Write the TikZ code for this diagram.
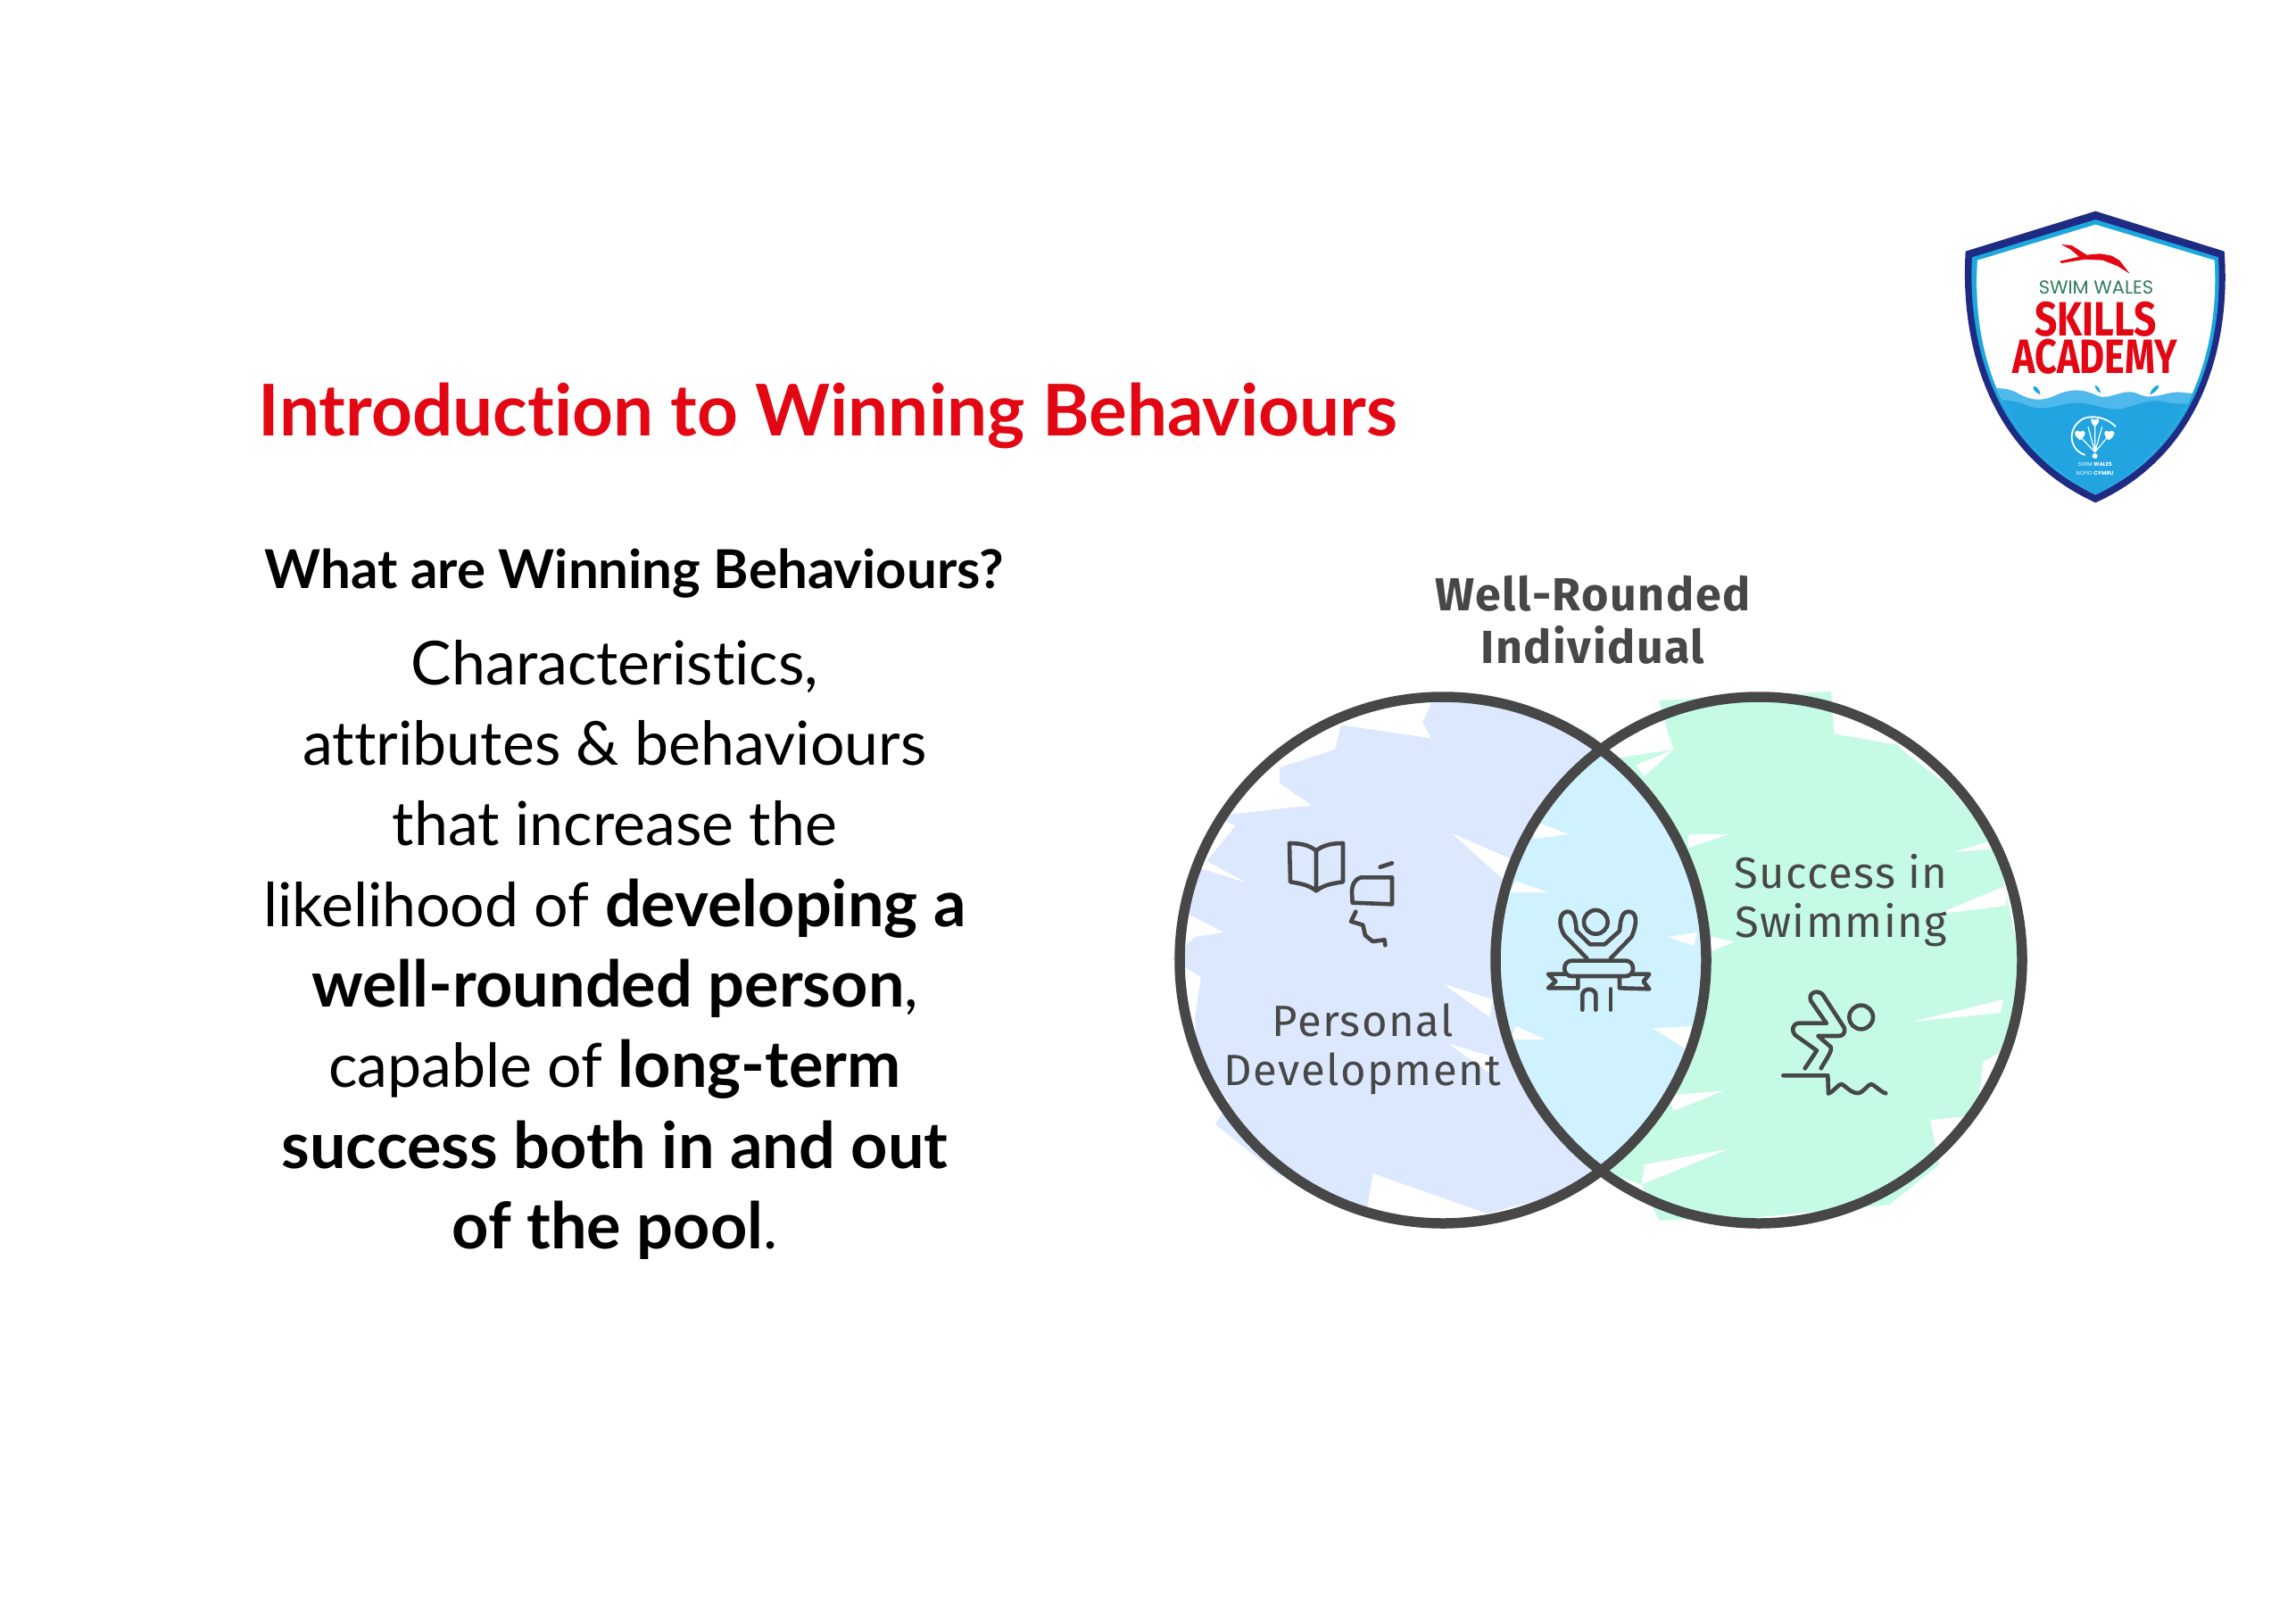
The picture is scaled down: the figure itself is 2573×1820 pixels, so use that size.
\documentclass[tikz,border=0pt]{standalone}
\usepackage{fontspec}
\usepackage{graphicx}
\setmainfont{Lato}[Ligatures=NoCommon]
\newfontfamily\hand{Fira Sans}[LetterSpace=3]
\newfontfamily\logofont{Poppins}
\newfontfamily\logobold{Fira Sans}[UprightFont=*-Bold]
\newcommand{\strongbit}[1]{{\fontsize{72}{90.3}\selectfont\bfseries #1}}
\definecolor{ink}{HTML}{474747}
\definecolor{pblue}{HTML}{DBE8FE}
\definecolor{pgreen}{HTML}{C5FBE4}
\definecolor{pcyan}{HTML}{D0F2FE}
\definecolor{wred}{HTML}{E30613}
\definecolor{navy}{HTML}{1F2A83}
\definecolor{midblue}{HTML}{1CA7DD}
\definecolor{wave}{HTML}{4FB9EC}
\definecolor{deep}{HTML}{22A4E0}
\definecolor{wgreen}{HTML}{2E7D5B}
\tikzset{
 zb/.style={shift={(1300,620)},x=.654pt,y=-.5pt},
 zl/.style={shift={(2180,220)},x=.3333pt,y=-.3333pt},
 zi/.style={shift={(1420,920)},x=.3333pt,y=-.3333pt},
 zd/.style={shift={(1950,1080)},x=.3333pt,y=-.3333pt},
 icon/.style={draw=ink,line width=4.6pt,line cap=round,line join=round},
 ring/.style={draw=ink,line width=11.5pt},
 handtext/.style={text=ink,font=\hand\fontsize{49}{56}\selectfont,inner sep=0pt},
 handbold/.style={text=ink,font=\hand\bfseries\fontsize{52}{58}\selectfont,inner sep=0pt},
 spike/.style={fill=white,draw=none},
}
\begin{document}
\begin{tikzpicture}[x=1pt,y=-1pt]
\useasboundingbox (0,0) rectangle (2573,1820);
\fill[white] (0,0) rectangle (2573,1820);

% text column
\node[inner sep=0pt,text=wred,font=\bfseries\fontsize{80}{88}\selectfont] (title) at (928,466) {Introduction to Winning Behaviours};
\node[inner sep=0pt,font=\bfseries\fontsize{60}{68}\selectfont] (question) at (711,643) {What are Winning Behaviours?};
\node[inner sep=0pt,align=center,anchor=north,font=\fontsize{68}{90.3}\selectfont] (body) at (689,717) {Characteristics,\\attributes \& behaviours\\that increase the\\likelihood of \strongbit{developing a}\\\strongbit{well-rounded person},\\capable of \strongbit{long-term}\\\strongbit{success both in and out}\\\strongbit{of the pool}.};

% venn fills
\begin{scope}[zb]
\fill[pgreen] (855,330)--(1150,310)--(1155,405)--(1265,430)--(1275,445)--(1350,520)--(1400,600)--(1440,700)--(1480,950)--(1465,1100)--(1410,1140)--(1400,1260)--(1320,1270)--(1335,1370)--(1250,1460)--(1010,1490)--(855,1495)--(825,1415)--(760,1385)--(700,1330)--(635,1280)--(640,1240)--(700,1000)--(780,460)--(880,440)--(870,400)--cycle;
\fill[pblue] (465,335)--(560,325)--(680,370)--(745,410)--(800,600)--(800,1200)--(735,1420)--(560,1480)--(365,1390)--(355,1465)--(200,1390)--(95,1280)--(120,1230)--(60,1140)--(60,1040)--(70,950)--(20,910)--(60,860)--(110,850)--(50,810)--(55,700)--(150,740)--(80,690)--(130,610)--(90,590)--(260,565)--(205,515)--(205,480)--(300,440)--(310,385)--(465,415)--(450,380)--cycle;
\end{scope}
\begin{scope}
\clip (1617,1076) circle[radius=295];
\fill[pcyan] (1971,1076) circle[radius=295];
\end{scope}
\begin{scope}[zb]
\foreach \p in {
 {(500,628)--(610,690)--(600,745)},
 {(610,735)--(665,760)--(600,760)},
 {(485,965)--(570,1000)--(565,1040)},
 {(495,1100)--(575,1130)--(570,1170)},
 {(700,630)--(640,600)--(640,640)},
 {(845,1065)--(910,1060)--(905,1115)},
 {(610,1060)--(660,1090)--(600,1090)},
 {(870,860)--(920,850)--(915,880)},
 {(975,630)--(905,660)--(905,630)},
 {(985,870)--(940,895)--(945,860)},
 {(1460,630)--(1360,670)--(1450,660)},
 {(1450,745)--(1330,810)--(1450,790)},
 {(1445,1000)--(1290,1050)--(1440,1030)},
 {(965,1205)--(880,1250)--(870,1215)},
 {(975,1335)--(825,1415)--(830,1370)},
 {(880,440)--(815,475)--(830,500)}
}{\fill[spike] \p--cycle;}
\end{scope}
\draw[ring] (1617,1076) circle[radius=295];
\draw[ring] (1971,1076) circle[radius=295];

% venn text
\node[handbold] (wr1) at (1785,665) {Well-Rounded};
\node[handbold] (wr2) at (1785,723) {Individual};
\node[handtext] (pd1) at (1527,1143) {Personal};
\node[handtext] (pd2) at (1527,1203) {Development};
\node[handtext] (sw1) at (2063,977) {Success in};
\node[handtext] (sw2) at (2063,1037) {Swimming};

% icons
\begin{scope}[zi]
\draw[icon] (165,100) .. controls (140,80) and (110,75) .. (75,75) -- (78,205) .. controls (110,210) and (140,215) .. (165,235) .. controls (190,215) and (220,210) .. (255,205) -- (255,75) .. controls (220,75) and (190,80) .. (165,100) -- (165,235);
\draw[icon] (380,155)--(420,142);
\draw[icon] (420,190)--(315,190) .. controls (295,195) and (285,215) .. (285,240) -- (287,275) -- (420,280) -- cycle;
\draw[icon] (298,305)--(282,338)--(322,350)--(330,385)--(355,405)--(395,400)--(397,418);
\draw[icon] (1105,340) circle[radius=40];
\draw[icon] (1075,462) -- (1000,385) .. controls (975,345) and (985,305) .. (1010,305) .. controls (1035,305) and (1038,340) .. (1040,370) -- (1085,415) -- (1135,415) -- (1185,370) .. controls (1188,340) and (1190,305) .. (1215,305) .. controls (1245,305) and (1245,345) .. (1225,390) -- (1155,462);
\draw[icon,rounded corners=8pt] (1000,470) -- (1230,470) -- (1230,522) -- (1000,522) -- cycle;
\draw[icon] (1000,515)--(945,515)--(970,540)--(945,562)--(1045,562)--(1045,530);
\draw[icon] (1230,515)--(1285,515)--(1265,540)--(1285,565)--(1185,562)--(1185,530);
\draw[icon] (1060,635)--(1060,585) .. controls (1062,560) and (1103,560) .. (1105,585) -- (1105,635);
\draw[icon] (1155,565)--(1155,635);
\end{scope}
\begin{scope}[zd]
\draw[icon] (407,180) circle[radius=40];
\draw[icon] (290,200)--(238,125) .. controls (225,95) and (270,80) .. (285,115) -- (350,215) .. controls (355,235) and (345,243) .. (330,243) -- (262,243) -- (305,280) .. controls (310,295) and (290,320) .. (272,352);
\draw[icon] (290,200)--(195,200) .. controls (175,205) and (172,225) .. (185,240) -- (258,292) -- (218,352);
\draw[icon] (145,376)--(295,376)--(297,437) .. controls (315,430) and (330,405) .. (340,405) .. controls (350,405) and (370,435) .. (395,435) .. controls (415,435) and (430,405) .. (440,405) .. controls (450,405) and (470,430) .. (490,436);
\end{scope}

% logo
\begin{scope}[zl]
\fill[navy] (505,50)--(938,185) .. controls (960,470) and (880,860) .. (505,1030) .. controls (130,860) and (50,470) .. (68,185) -- cycle;
\fill[midblue] (505,78)--(918,205) .. controls (935,470) and (860,840) .. (505,1003) .. controls (150,840) and (75,470) .. (90,205) -- cycle;
\begin{scope}
\clip (505,95)--(905,215) .. controls (920,470) and (850,830) .. (505,1003) .. controls (160,830) and (90,470) .. (108,215) -- cycle;
\fill[white] (0,0) rectangle (1080,1100);
\fill[wave] (100,665) .. controls (150,640) and (200,640) .. (240,660) .. controls (290,690) and (330,690) .. (380,665) .. controls (430,645) and (470,650) .. (510,670) .. controls (550,690) and (600,640) .. (650,665) .. controls (700,690) and (750,650) .. (800,660) -- (900,670) -- (900,1100) -- (100,1100) -- cycle;
\fill[deep] (100,700) .. controls (160,680) and (220,680) .. (280,705) .. controls (330,725) and (380,700) .. (430,695) .. controls (490,690) and (530,720) .. (590,715) .. controls (640,705) and (680,680) .. (730,690) .. controls (770,700) and (810,700) .. (900,690) -- (900,1100) -- (100,1100) -- cycle;
\end{scope}
\fill[midblue] (295,640) .. controls (305,635) and (318,650) .. (320,668) .. controls (308,660) and (295,655) .. (295,640) -- cycle;
\fill[midblue] (503,635) .. controls (513,638) and (522,650) .. (522,662) .. controls (512,655) and (503,648) .. (503,635) -- cycle;
\fill[midblue] (718,635) .. controls (705,635) and (690,650) .. (688,668) .. controls (702,660) and (718,650) .. (718,635) -- cycle;
\fill[wred] (390,162)--(425,165)--(475,197)--(520,193)--(560,200)--(585,215)--(620,260)--(580,235)--(530,215)--(470,212)--(390,225)--(385,218)--(450,203)--(420,178)--cycle;
\node[inner sep=0pt,text=wgreen,font=\logofont\fontsize{21}{22}\selectfont] (lg1) at (507,307) {SWIM WALES};
\node[inner sep=0pt,text=wred,font=\logobold\fontsize{54}{56}\selectfont] (lg2) at (505,413) {\scalebox{.82}[1]{SKILLS}};
\node[inner sep=0pt,text=wred,font=\logobold\fontsize{54}{56}\selectfont] (lg3) at (503,538) {\scalebox{.8}[1]{ACADEMY}};
\draw[white,line width=1.8pt] (470,870) .. controls (410,850) and (410,770) .. (470,745) .. controls (510,735) and (550,750) .. (573,775);
\draw[white,line width=1.2pt] (503,860)--(455,810) (503,860)--(503,770) (503,860)--(545,810) (503,860)--(480,775) (503,860)--(527,775);
\fill[white] (503,775) .. controls (480,755) and (490,740) .. (503,752) .. controls (516,740) and (526,755) .. (503,775) -- cycle;
\fill[white] (453,820) .. controls (425,800) and (435,780) .. (453,792) .. controls (470,780) and (480,800) .. (453,820) -- cycle;
\fill[white] (550,820) .. controls (525,800) and (535,780) .. (550,792) .. controls (568,780) and (580,800) .. (550,820) -- cycle;
\fill[white] (503,873) circle[radius=9];
\node[inner sep=0pt,text=white,font=\logofont\fontsize{6}{7}\selectfont] (lg4) at (503,901) {SWIM \textbf{WALES}};
\node[inner sep=0pt,text=white,font=\logofont\fontsize{6}{7}\selectfont] (lg5) at (503,930) {NOFIO \textbf{CYMRU}};
\end{scope}
\end{tikzpicture}
\end{document}
